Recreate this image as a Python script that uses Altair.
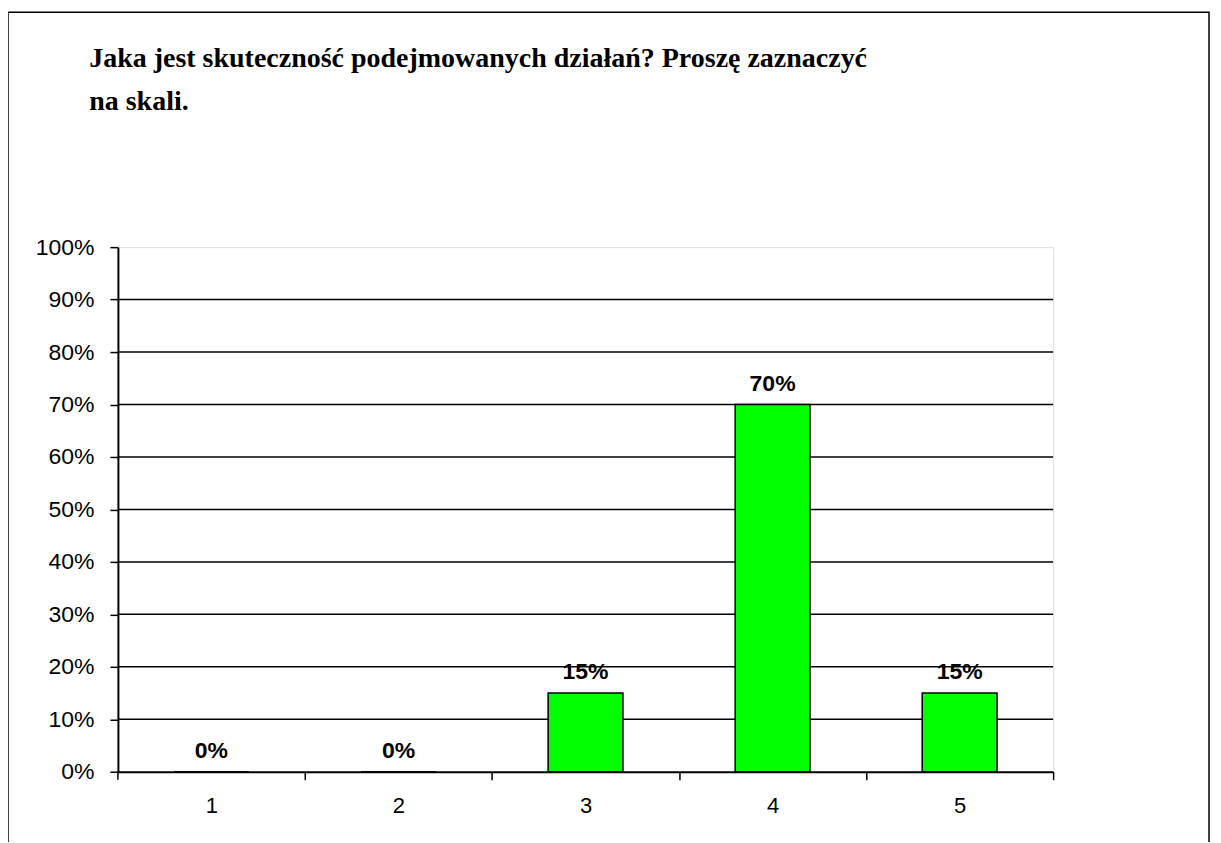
import altair as alt
import pandas as pd

categories = ["1", "2", "3", "4", "5"]
values = [0.0, 0.0, 0.15, 0.70, 0.15]
labels = ["0%", "0%", "15%", "70%", "15%"]
grid_values = [0.1, 0.2, 0.3, 0.4, 0.5, 0.6, 0.7, 0.8, 0.9]
y_ticks = [0.0, 0.1, 0.2, 0.3, 0.4, 0.5, 0.6, 0.7, 0.8, 0.9, 1.0]
title_lines = ["Jaka jest skuteczność podejmowanych  działań? Proszę zaznaczyć", "na skali."]

df = pd.DataFrame({"cat": categories, "val": values, "lab": labels})
gdf = pd.DataFrame({"g": grid_values})

W, H = 936, 525
STEP = W / 5

x_enc = alt.X("cat:N", sort=categories, title=None,
              scale=alt.Scale(paddingInner=0.6, paddingOuter=0.3),
              axis=alt.Axis(labelAngle=0, labelFont="Liberation Sans", labelFontSize=22,
                            labelColor="black", labelPadding=16,
                            tickOffset=STEP / 2, labelOffset=-STEP / 2,
                            tickSize=8, tickColor="black", domainColor="black",
                            domainWidth=2, tickWidth=1.5, zindex=1))
y_scale = alt.Scale(domain=[0, 1])

frame = alt.Chart(pd.DataFrame({"a": [0]})).mark_rect(
    fill=None, stroke="black", strokeWidth=1.5
).encode(x=alt.value(-110), x2=alt.value(1092), y=alt.value(-235), y2=alt.value(640))

first_tick = alt.Chart(pd.DataFrame({"a": [0]})).mark_rule(
    color="black", strokeWidth=1.5
).encode(x=alt.value(0), y=alt.value(H), y2=alt.value(H + 8))

grid = alt.Chart(gdf).mark_rule(color="black", strokeWidth=1.5).encode(
    y=alt.Y("g:Q", scale=y_scale)
)

bars = alt.Chart(df).mark_bar(color="#00ff00", stroke="black", strokeWidth=1.5).encode(
    x=x_enc,
    y=alt.Y("val:Q", scale=y_scale, title=None,
            axis=alt.Axis(format="%", values=y_ticks, grid=False, labelFont="Liberation Sans",
                          labelFontSize=23, labelColor="black", labelPadding=16,
                          tickSize=8, tickColor="black", domainColor="black",
                          domainWidth=2, tickWidth=1.5, zindex=1)),
)

text = alt.Chart(df).mark_text(
    font="Liberation Sans", fontSize=23, fontWeight="bold", baseline="bottom", dy=-9, color="black"
).encode(x=alt.X("cat:N", sort=categories), y=alt.Y("val:Q", scale=y_scale), text="lab:N")

chart = alt.layer(frame, grid, first_tick, bars, text).properties(
    width=W, height=H,
    title=alt.Title(title_lines, anchor="start", font="Liberation Serif", fontSize=28,
                    fontWeight="bold", color="black", dx=82, offset=0, dy=104, lineHeight=43),
    autosize=alt.AutoSizeParams(type="none"),
    padding={"left": 110, "top": 239, "right": 160, "bottom": 70},
).configure_view(stroke="#808080", strokeWidth=2).configure(background="white")

chart.save("out.html", embed_options={"renderer": "svg", "actions": False})
